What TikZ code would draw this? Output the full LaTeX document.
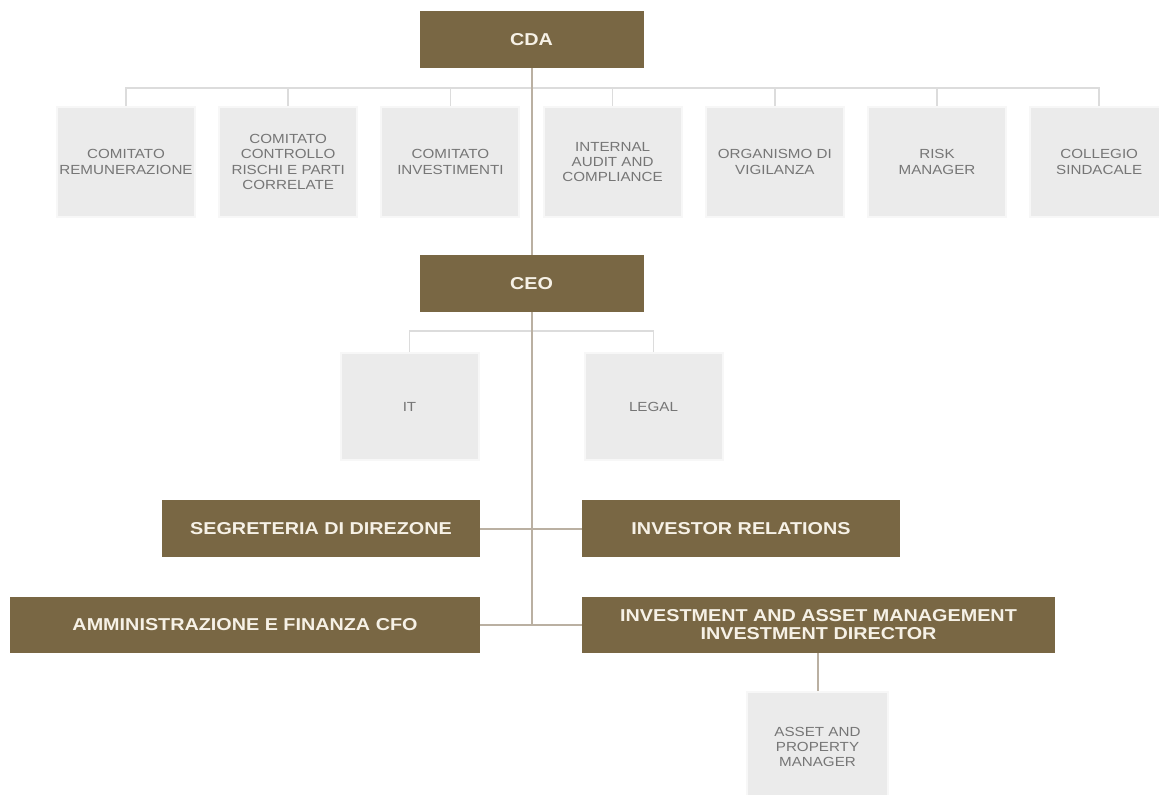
\documentclass[tikz,border=0pt]{standalone}
\usepackage{fontspec}
\setmainfont{Liberation Sans}[FakeStretch=1.15]
\usetikzlibrary{positioning}
\definecolor{orgbrown}{RGB}{121,103,68}
\definecolor{orgcream}{RGB}{246,241,230}
\definecolor{orggrey}{RGB}{235,235,235}
\definecolor{orgedge}{RGB}{247,247,247}
\definecolor{orgtext}{RGB}{118,118,118}
\definecolor{orgtrunk}{RGB}{186,176,162}
\definecolor{orgbranch}{RGB}{220,220,220}

\tikzset{
  brownbox/.style={fill=orgbrown, text=orgcream, inner sep=0pt, align=center,
                   font=\fontsize{8.6}{9}\selectfont\bfseries, minimum height=28.5pt},
  greybox/.style={fill=orggrey, draw=orgedge, line width=1pt, text=orgtext,
                  inner sep=0pt, align=center, font=\fontsize{6.6}{7.65}\selectfont,
                  minimum width=69pt, minimum height=55pt},
  trunk/.style={draw=orgtrunk, line width=1pt},
  branch/.style={draw=orgbranch, line width=0.8pt}
}

\begin{document}
\begin{tikzpicture}[x=0.5pt, y=-0.5pt]
    \useasboundingbox[fill=white] (0,0) rectangle (1159,795);

    % board and its committees
    \node[brownbox, minimum width=112pt] (cda) at (531.5,39.5) {CDA};
    \coordinate (bus) at (531.5,88);
    \foreach \name/\txt [count=\i from 0] in {
        crem/{COMITATO\\REMUNERAZIONE},
        ccrp/{COMITATO\\CONTROLLO\\RISCHI E PARTI\\CORRELATE},
        cinv/{COMITATO\\INVESTIMENTI},
        iaud/{INTERNAL\\AUDIT AND\\COMPLIANCE},
        odv/{ORGANISMO DI\\VIGILANZA},
        risk/{RISK\\MANAGER},
        csin/{COLLEGIO\\SINDACALE}} {
      \node[greybox] (\name) at ({126+162.2*\i},162) {\txt};
      \draw[branch] (\name.north) |- (bus);
    }

    % chief executive and staff
    \node[brownbox, minimum width=112pt] (ceo) at (531.5,283.5) {CEO};
    \coordinate (ceobus) at (531.5,331);
    \node[greybox, minimum height=53.5pt] (it) at (409.5,406.5) {IT};
    \node[greybox, minimum height=53.5pt] (legal) at (653.5,406.5) {LEGAL};
    \draw[branch] (it.north) |- (ceobus) -| (legal.north);

    % functions
    \node[brownbox, minimum width=159pt] (seg) at (321,528.5) {SEGRETERIA DI DIREZONE};
    \node[brownbox, minimum width=159pt] (invrel) at (741,528.5) {INVESTOR RELATIONS};
    \node[brownbox, minimum width=235pt, minimum height=28pt] (amm) at (245,625)
      {AMMINISTRAZIONE E FINANZA CFO};
    \node[brownbox, minimum width=236.5pt, minimum height=28pt] (inv) at (818.5,625)
      {INVESTMENT AND ASSET MANAGEMENT\\INVESTMENT DIRECTOR};
    \node[greybox, minimum width=70.5pt] (apm) at (817.5,747)
      {ASSET AND\\PROPERTY\\MANAGER};
    \coordinate (trunkend) at (531.5,625);

    \draw[trunk] (cda.south) -- (ceo.north);
    \draw[trunk] (ceo.south) -- (trunkend);
    \draw[trunk] (seg.east) -- (invrel.west);
    \draw[trunk] (amm.east) -- (inv.west);
    \draw[trunk] (inv.south -| apm.north) -- (apm.north);
  \end{tikzpicture}
\end{document}
